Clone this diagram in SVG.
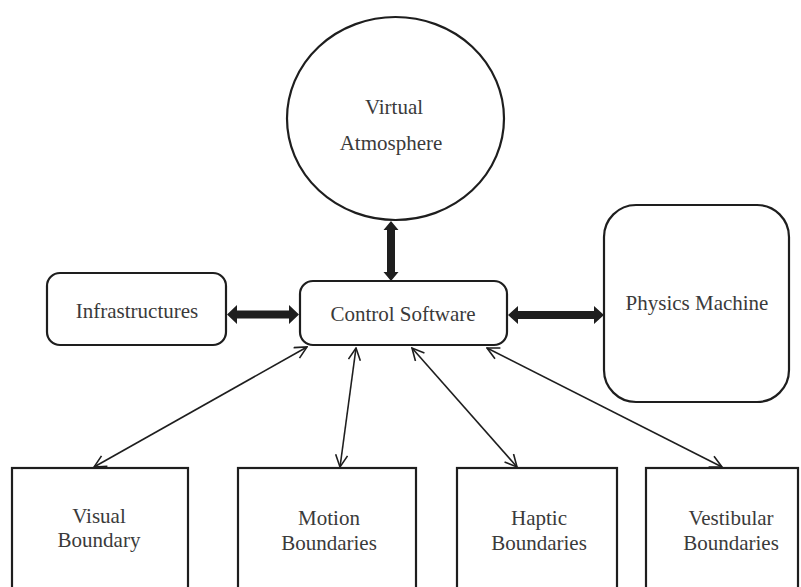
<svg xmlns="http://www.w3.org/2000/svg" width="801" height="587" viewBox="0 0 801 587">
<defs>
<style>
.box{fill:#fff;stroke:#1e1e1e;stroke-width:2.2}
.lbl{font-family:"Liberation Serif","Times New Roman",serif;font-size:21px;fill:#3a3a3a;text-anchor:middle}
.thin{stroke:#1e1e1e;stroke-width:1.6;fill:none;marker-start:url(#open);marker-end:url(#open)}
.thick{fill:#1e1e1e;stroke:none}
</style>
<marker id="open" viewBox="0 0 14 14" refX="13" refY="7" markerWidth="14" markerHeight="14" markerUnits="userSpaceOnUse" orient="auto-start-reverse">
<path d="M1,1 L13,7 L1,13" fill="none" stroke="#1e1e1e" stroke-width="1.6"/>
</marker>
</defs>
<rect width="801" height="587" fill="#fff"/>
<g id="connectors">
<polygon class="thick" points="227,314.5 237,305 237,310.5 289,310.5 289,305 299,314.5 289,324 289,318.5 237,318.5 237,324"/>
<polygon class="thick" points="508,315 518,306 518,311 594,311 594,306 604,315 594,324 594,319 518,319 518,324"/>
<polygon class="thick" points="391,221 398.5,230 395,230 395,272 398.5,272 391,281 383.5,272 387,272 387,230 383.5,230"/>
<line class="thin" x1="307" y1="347" x2="94" y2="467"/>
<line class="thin" x1="356" y1="348" x2="340" y2="467"/>
<line class="thin" x1="412" y1="348" x2="517" y2="467"/>
<line class="thin" x1="487" y1="348" x2="722" y2="467"/>
</g>
<g id="virtual-atmosphere">
<ellipse class="box" cx="395.5" cy="118.5" rx="108.5" ry="101.5"/>
<text class="lbl" x="394" y="114">Virtual</text>
<text class="lbl" x="391" y="150">Atmosphere</text>
</g>
<g id="infrastructures">
<rect class="box" x="47" y="273" width="179" height="72" rx="13"/>
<text class="lbl" x="137" y="318">Infrastructures</text>
</g>
<g id="control-software">
<rect class="box" x="300" y="281" width="207" height="64" rx="13"/>
<text class="lbl" x="403" y="321">Control Software</text>
</g>
<g id="physics-machine">
<rect class="box" x="604" y="205" width="185" height="197" rx="32"/>
<text class="lbl" x="697" y="310">Physics Machine</text>
</g>
<g id="visual-boundary">
<rect class="box" x="12" y="468" width="176" height="130"/>
<text class="lbl" x="99" y="523">Visual</text>
<text class="lbl" x="99" y="547">Boundary</text>
</g>
<g id="motion-boundaries">
<rect class="box" x="238" y="468" width="178" height="130"/>
<text class="lbl" x="329" y="525">Motion</text>
<text class="lbl" x="329" y="550">Boundaries</text>
</g>
<g id="haptic-boundaries">
<rect class="box" x="457" y="468" width="160" height="130"/>
<text class="lbl" x="539" y="525">Haptic</text>
<text class="lbl" x="539" y="550">Boundaries</text>
</g>
<g id="vestibular-boundaries">
<rect class="box" x="646" y="468" width="152" height="130"/>
<text class="lbl" x="731" y="525">Vestibular</text>
<text class="lbl" x="731" y="550">Boundaries</text>
</g>
</svg>
